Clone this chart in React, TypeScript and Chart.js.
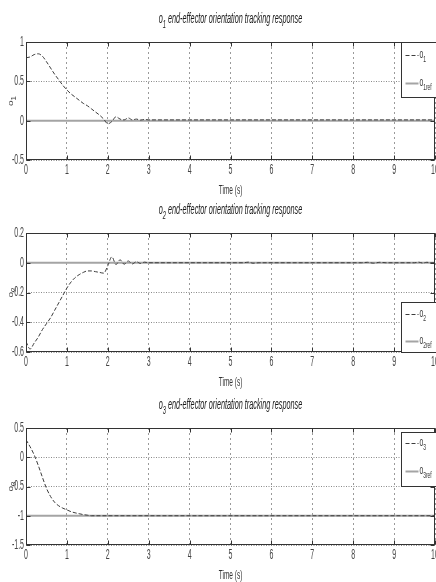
import { useEffect, useRef } from "react";
import { Chart, registerables } from "chart.js";

Chart.register(...registerables);

// ---------- data ----------
const xTicks = [0, 1, 2, 3, 4, 5, 6, 7, 8, 9, 10];

const o1Time = [0, 0.1, 0.2, 0.3, 0.4, 0.5, 0.6, 0.7, 0.8, 0.9, 1.0, 1.1, 1.2, 1.3, 1.4, 1.5, 1.6, 1.7, 1.8, 1.9, 2.0, 2.1, 2.2, 2.3, 2.4, 2.5, 2.6, 2.7, 2.8, 2.9, 3.0, 4, 5, 6, 7, 8, 9, 10];
const o1Values = [0.8, 0.81, 0.84, 0.85, 0.82, 0.75, 0.67, 0.59, 0.52, 0.45, 0.39, 0.34, 0.3, 0.26, 0.22, 0.19, 0.15, 0.11, 0.07, 0.02, -0.04, -0.01, 0.05, 0.02, 0.01, 0.035, 0.01, 0.02, 0.008, 0.015, 0.01, 0.01, 0.01, 0.01, 0.01, 0.01, 0.01, 0.01];

const o2Time = [0, 0.1, 0.2, 0.3, 0.4, 0.5, 0.6, 0.7, 0.8, 0.9, 1.0, 1.1, 1.2, 1.3, 1.4, 1.5, 1.6, 1.7, 1.8, 1.9, 2.0, 2.1, 2.2, 2.3, 2.4, 2.5, 2.6, 2.7, 2.8, 2.9, 3.0, 4, 5.3, 5.45, 5.55, 5.7, 8.2, 8.35, 8.5, 8.65, 8.8, 9.5, 9.6, 9.7, 9.8, 9.9, 10];
const o2Values = [-0.53, -0.58, -0.54, -0.5, -0.45, -0.41, -0.37, -0.32, -0.27, -0.22, -0.17, -0.13, -0.1, -0.08, -0.065, -0.055, -0.055, -0.06, -0.065, -0.07, -0.02, 0.04, -0.012, 0.02, -0.01, 0.012, -0.008, 0.007, -0.005, 0.004, 0, 0, 0, 0.004, -0.003, 0, 0, 0.003, -0.003, 0.003, 0, 0, 0.004, -0.002, 0.003, 0, 0];

const o3Time = [0, 0.1, 0.2, 0.3, 0.4, 0.5, 0.6, 0.7, 0.8, 0.9, 1.0, 1.1, 1.2, 1.3, 1.4, 1.5, 1.6, 10];
const o3Values = [0.3, 0.18, 0.04, -0.14, -0.34, -0.53, -0.67, -0.77, -0.83, -0.87, -0.9, -0.93, -0.95, -0.965, -0.98, -0.99, -1.0, -1.0];

const refTime = [0, 10];
const o1RefValues = [0, 0];
const o2RefValues = [0, 0];
const o3RefValues = [-1, -1];

const o1YTicks = [-0.5, 0, 0.5, 1];
const o2YTicks = [-0.6, -0.4, -0.2, 0, 0.2];
const o3YTicks = [-1.5, -1, -0.5, 0, 0.5];

const panelTitles = [
  "o_1 end-effector orientation tracking response",
  "o_2 end-effector orientation tracking response",
  "o_3 end-effector orientation tracking response",
];
const xAxisTitle = "Time (s)";
const yAxisTitles = ["o_1", "o_2", "o_3"];
const seriesLabels = [
  ["o_1", "o_1ref"],
  ["o_2", "o_2ref"],
  ["o_3", "o_3ref"],
];

// ---------- layout / style ----------
const W = 436;
const H = 582;
const X_AXIS_H = 30;
const Y_AXIS_W = 26;
const SX = 0.5;
const TEXT_FONT = "'Liberation Sans', Arial, sans-serif";

const panels = [
  { times: o1Time, values: o1Values, ref: o1RefValues, yTicks: o1YTicks, top: 42, bottom: 160, legend: { anchor: "top", offset: 0, height: 55, rows: [13, 41] } },
  { times: o2Time, values: o2Values, ref: o2RefValues, yTicks: o2YTicks, top: 233, bottom: 352, legend: { anchor: "bottom", offset: 0, height: 50, rows: [12, 39] } },
  { times: o3Time, values: o3Values, ref: o3RefValues, yTicks: o3YTicks, top: 428, bottom: 545, legend: { anchor: "top", offset: 4, height: 54, rows: [11, 39] } },
];

type Seg = { t: string; sub: boolean };
function parseRich(text: string): Seg[] {
  const segs: Seg[] = [];
  const re = /_(\S+)/g;
  let last = 0;
  let m: RegExpExecArray | null;
  while ((m = re.exec(text))) {
    if (m.index > last) segs.push({ t: text.slice(last, m.index), sub: false });
    segs.push({ t: m[1], sub: true });
    last = m.index + m[0].length;
  }
  if (last < text.length) segs.push({ t: text.slice(last), sub: false });
  return segs;
}

function drawRich(
  ctx: CanvasRenderingContext2D,
  text: string,
  x: number,
  y: number,
  size: number,
  style: string,
  color: string,
  align: "left" | "center" | "right",
  sx: number,
  baseline: CanvasTextBaseline = "alphabetic",
  rotate = 0
) {
  const segs = parseRich(text);
  ctx.save();
  ctx.fillStyle = color;
  ctx.textBaseline = baseline;
  ctx.textAlign = "left";
  const fontOf = (s: Seg) => `${style} ${s.sub ? Math.round(size * 0.75) : size}px ${TEXT_FONT}`;
  let w = 0;
  for (const s of segs) {
    ctx.font = fontOf(s);
    w += ctx.measureText(s.t).width;
  }
  ctx.translate(x, y);
  ctx.scale(sx, 1);
  if (rotate) ctx.rotate(rotate);
  let cx = align === "center" ? -w / 2 : align === "right" ? -w : 0;
  for (const s of segs) {
    ctx.font = fontOf(s);
    ctx.fillText(s.t, cx, s.sub ? size * 0.35 : 0);
    cx += ctx.measureText(s.t).width;
  }
  ctx.restore();
}

const decoPlugin = {
  id: "panelDeco",
  afterDraw(chart: any, _args: any, opts: any) {
    const { ctx, chartArea: a, scales } = chart;
    const xs = scales.x;
    const ys = scales.y;
    ctx.save();
    ctx.setLineDash([]);

    // frame
    const l = Math.round(a.left) + 0.5;
    const t = Math.round(a.top) + 0.5;
    const r = Math.round(a.right) - 0.5;
    const b = Math.round(a.bottom) - 0.5;
    ctx.strokeStyle = "#333";
    ctx.lineWidth = 1;
    ctx.strokeRect(l, t, r - l, b - t);

    // inward tick marks
    ctx.beginPath();
    xs.ticks.forEach((_: any, k: number) => {
      const px = Math.round(xs.getPixelForTick(k)) + 0.5;
      ctx.moveTo(px, b); ctx.lineTo(px, b - 4);
      ctx.moveTo(px, t); ctx.lineTo(px, t + 4);
    });
    ys.ticks.forEach((_: any, k: number) => {
      const py = Math.round(ys.getPixelForTick(k)) + 0.5;
      ctx.moveTo(l, py); ctx.lineTo(l + 4, py);
      ctx.moveTo(r, py); ctx.lineTo(r - 4, py);
    });
    ctx.stroke();

    // tick labels (from the scales)
    xs.ticks.forEach((tk: any, k: number) => {
      drawRich(ctx, String(tk.label), xs.getPixelForTick(k), a.bottom + 3, 14, "", "#444", "center", SX, "top");
    });
    ys.ticks.forEach((tk: any, k: number) => {
      drawRich(ctx, String(tk.label), a.left - 2, ys.getPixelForTick(k), 14, "", "#444", "right", SX, "middle");
    });

    // titles
    const cx = (a.left + a.right) / 2;
    drawRich(ctx, opts.title, cx, a.top - 19, 14, "italic", "#1a1a1a", "center", 0.52);
    drawRich(ctx, opts.xTitle, cx, a.bottom + 34, 13, "", "#333", "center", SX);
    drawRich(ctx, opts.yTitle, 13, (a.top + a.bottom) / 2, 10, "", "#444", "center", 0.8, "alphabetic", -Math.PI / 2);

    // legend box
    const lg = opts.legend;
    const left = Math.round(a.right) - 33.5;
    const top = Math.round(lg.anchor === "bottom" ? a.bottom - lg.height : a.top + lg.offset) + 0.5;
    ctx.fillStyle = "#fff";
    ctx.fillRect(left, top, 60, lg.height);
    ctx.strokeStyle = "#333";
    ctx.lineWidth = 1;
    ctx.strokeRect(left, top, 60, lg.height);
    chart.data.datasets.forEach((ds: any, i: number) => {
      const y = top + lg.rows[i];
      ctx.save();
      ctx.setLineDash(ds.borderDash || []);
      ctx.strokeStyle = ds.borderColor;
      ctx.lineWidth = ds.borderWidth;
      ctx.beginPath();
      ctx.moveTo(left + 4, y);
      ctx.lineTo(left + 17, y);
      ctx.stroke();
      ctx.restore();
      drawRich(ctx, ds.label, left + 18, y + 2, 12, "", "#333", "left", 0.55);
    });
    ctx.restore();
  },
};

function buildChart(canvas: HTMLCanvasElement, i: number) {
  const p = panels[i];
  const pts = (t: number[], v: number[]) => t.map((x, k) => ({ x, y: v[k] }));
  return new Chart(canvas, {
    type: "line",
    data: {
      datasets: [
        {
          label: seriesLabels[i][0],
          data: pts(p.times, p.values),
          borderColor: "#3c3c3c",
          borderWidth: 1,
          borderDash: [4, 2],
          pointRadius: 0,
          cubicInterpolationMode: "monotone",
          order: 0,
        },
        {
          label: seriesLabels[i][1],
          data: pts(refTime, p.ref),
          borderColor: "#a4a4a4",
          borderWidth: 2,
          pointRadius: 0,
          order: 1,
        },
      ],
    },
    options: {
      animation: false,
      responsive: false,
      events: [],
      layout: { padding: { top: p.top, bottom: H - p.bottom - X_AXIS_H, left: 0, right: 1 } },
      plugins: {
        legend: { display: false },
        tooltip: { enabled: false },
        title: { display: false },
        panelDeco: { title: panelTitles[i], xTitle: xAxisTitle, yTitle: yAxisTitles[i], legend: p.legend },
      } as any,
      scales: {
        x: {
          type: "linear",
          min: 0,
          max: 10,
          afterBuildTicks: (s: any) => { s.ticks = xTicks.map((v) => ({ value: v })); },
          afterFit: (s: any) => { s.height = X_AXIS_H; s.paddingLeft = 0; s.paddingRight = 0; },
          grid: { color: "#9a9a9a", lineWidth: 1, drawTicks: false },
          border: { display: false, dash: [2, 3] },
          ticks: { display: false, callback: (v: any) => String(v) },
        },
        y: {
          type: "linear",
          min: p.yTicks[0],
          max: p.yTicks[p.yTicks.length - 1],
          afterBuildTicks: (s: any) => { s.ticks = p.yTicks.map((v) => ({ value: v })); },
          afterFit: (s: any) => { s.width = Y_AXIS_W; s.paddingTop = 0; s.paddingBottom = 0; },
          grid: { color: "#8a8a8a", lineWidth: 1, drawTicks: false },
          border: { display: false, dash: [1, 1.5] },
          ticks: { display: false, callback: (v: any) => String(v) },
        },
      },
    } as any,
    plugins: [decoPlugin],
  });
}

function Panel({ index }: { index: number }) {
  const ref = useRef<HTMLCanvasElement | null>(null);
  useEffect(() => {
    if (!ref.current) return;
    const chart = buildChart(ref.current, index);
    return () => chart.destroy();
  }, [index]);
  return (
    <canvas
      ref={ref}
      width={W}
      height={H}
      style={{ position: "absolute", left: 0, top: 0, width: W, height: H }}
    />
  );
}

export default function App() {
  return (
    <div style={{ position: "absolute", left: 0, top: 0, width: W, height: H, background: "#fff", overflow: "hidden" }}>
      {panels.map((_, i) => (
        <Panel key={i} index={i} />
      ))}
    </div>
  );
}
